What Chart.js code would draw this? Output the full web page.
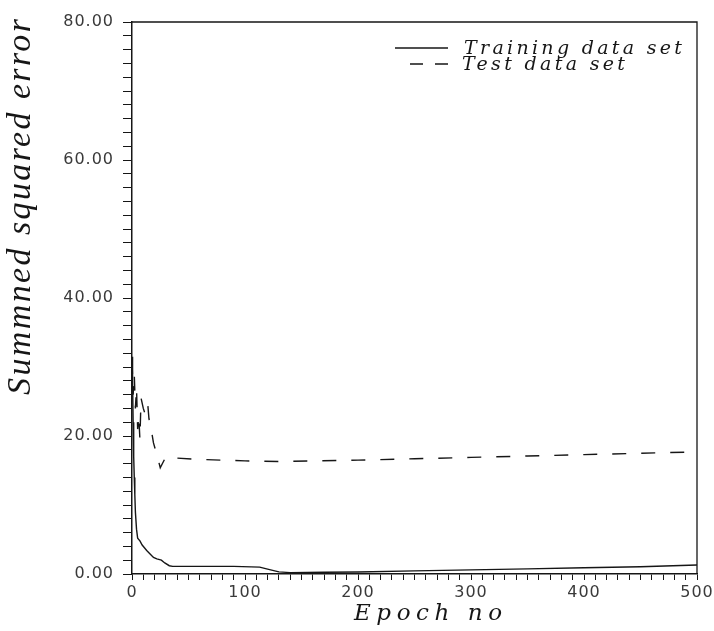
<!DOCTYPE html>
<html>
<head>
<meta charset="utf-8">
<script src="https://cdn.jsdelivr.net/npm/chart.js@4.4.1/dist/chart.umd.min.js"></script>
<style>
  html, body { margin: 0; padding: 0; background: #fff; }
  #wrap { width: 714px; height: 631px; }
</style>
</head>
<body>
<div id="wrap"><canvas id="myChart" width="714" height="631"></canvas></div>
<script>
// values
const trainEpochs = [0, 0.5, 1, 1.5, 2, 2.5, 3, 4, 5, 7, 9, 11, 13, 16, 19, 22, 26, 29, 33, 36, 60, 90, 113, 120, 130, 140, 170, 200, 250, 300, 350, 400, 450, 500]
const trainError = [31.5, 28, 22, 17, 14, 11.5, 9, 6.5, 5.2, 4.8, 4.2, 3.8, 3.4, 2.9, 2.4, 2.2, 2.0, 1.6, 1.2, 1.1, 1.1, 1.1, 1.0, 0.7, 0.3, 0.2, 0.25, 0.3, 0.45, 0.6, 0.75, 0.9, 1.05, 1.3]

const testEpochs = [0, 1, 2, 3, 4, 5, 6, 7, 8, 10, 12, 14, 15, 17, 19, 22, 25, 30, 33, 40, 60, 80, 100, 130, 160, 200, 250, 300, 350, 400, 450, 500]
const testError = [31, 26, 29, 24, 27, 21, 23, 19.5, 25.5, 24, 23, 24.5, 22.5, 21, 19, 17.3, 15.4, 17.0, 17.0, 16.8, 16.6, 16.5, 16.4, 16.3, 16.4, 16.5, 16.7, 16.9, 17.1, 17.3, 17.5, 17.7]

const yTickValues = [0, 20, 40, 60, 80]
const yTickLabels = ['0.00', '20.00', '40.00', '60.00', '80.00']
const xTickValues = [0, 100, 200, 300, 400, 500]
const xTickLabels = ['0', '100', '200', '300', '400', '500']

const seriesNames = ['Training data set', 'Test data set']
const xTitle = 'Epoch no'
const yTitle = 'Summned squared error'

const ink = '#161616'

function spacedText(ctx, text, x, y, targetW) {
    ctx.letterSpacing = '0px'
    const w = ctx.measureText(text).width
    const sp = Math.max(0, (targetW - w) / (text.length - 1))
    ctx.letterSpacing = sp + 'px'
    ctx.textAlign = 'left'
    ctx.fillText(text, x, y)
    ctx.letterSpacing = '0px'
}

const paperPlugin = {
    id: 'paper',
    beforeDraw(chart) {
        chart.ctx.letterSpacing = '1px'
    },
    afterDraw(chart) {
        const ctx = chart.ctx
        const a = chart.chartArea
        ctx.save()
        ctx.letterSpacing = '0px'
        // top and right frame
        ctx.strokeStyle = ink
        ctx.lineWidth = 1.3
        ctx.beginPath()
        ctx.moveTo(a.left, a.top)
        ctx.lineTo(a.right, a.top)
        ctx.lineTo(a.right, a.bottom)
        ctx.stroke()

        // legend
        ctx.lineWidth = 1.3
        ctx.beginPath()
        ctx.moveTo(395, 48)
        ctx.lineTo(448, 48)
        ctx.stroke()
        ctx.setLineDash([13, 12])
        ctx.beginPath()
        ctx.moveTo(410, 64)
        ctx.lineTo(448, 64)
        ctx.stroke()
        ctx.setLineDash([])

        ctx.fillStyle = ink
        ctx.textBaseline = 'alphabetic'
        ctx.font = 'italic 19px "DejaVu Serif"'
        spacedText(ctx, seriesNames[0], 464, 54, 218)
        spacedText(ctx, seriesNames[1], 462, 70, 163)

        // axis titles
        ctx.font = 'italic 23px "DejaVu Serif"'
        spacedText(ctx, xTitle, 354, 620, 148)

        ctx.translate(30, 207)
        ctx.rotate(-Math.PI / 2)
        ctx.font = 'italic 34px "Liberation Serif"'
        spacedText(ctx, yTitle, -188, 0, 376)
        ctx.restore()
    }
}

const ctx = document.getElementById('myChart')

const myChart = new Chart(ctx, {
    type: 'line',
    data: {
        datasets: [{
            label: seriesNames[0],
            data: trainEpochs.map((e, i) => ({ x: e, y: trainError[i] })),
            borderColor: ink,
            borderWidth: 1.4,
            pointRadius: 0,
            tension: 0,
            fill: false
        }, {
            label: seriesNames[1],
            data: testEpochs.map((e, i) => ({ x: e, y: testError[i] })),
            borderColor: ink,
            borderWidth: 1.4,
            borderDash: [14, 15],
            pointRadius: 0,
            tension: 0,
            fill: false
        }]
    },
    options: {
        responsive: false,
        animation: false,
        events: [],
        layout: { padding: { top: 22, right: 17, left: 0, bottom: 0 } },
        plugins: {
            legend: { display: false },
            tooltip: { enabled: false }
        },
        scales: {
            x: {
                type: 'linear',
                min: 0,
                max: 500,
                border: { display: true, color: ink, width: 1.5 },
                grid: { drawOnChartArea: false, drawTicks: true, tickLength: 6, color: ink, lineWidth: 1 },
                ticks: {
                    stepSize: 10,
                    autoSkip: false,
                    maxRotation: 0,
                    padding: 3,
                    color: '#3a3a3a',
                    font: { family: '"DejaVu Sans"', size: 16 },
                    callback: v => {
                        const i = xTickValues.indexOf(v)
                        return i >= 0 ? xTickLabels[i] : ''
                    }
                },
                afterFit: s => {
                    s.height = 57
                    s.paddingLeft = 0
                    s.paddingRight = 0
                }
            },
            y: {
                type: 'linear',
                min: 0,
                max: 80,
                border: { display: true, color: ink, width: 1.5 },
                grid: { drawOnChartArea: false, drawTicks: true, tickLength: 9, color: ink, lineWidth: 1 },
                ticks: {
                    stepSize: 2,
                    autoSkip: false,
                    padding: 9,
                    color: '#3a3a3a',
                    font: { family: '"DejaVu Sans"', size: 16 },
                    callback: v => {
                        const i = yTickValues.indexOf(v)
                        return i >= 0 ? yTickLabels[i] : ''
                    }
                },
                afterFit: s => {
                    s.width = 132
                    s.paddingTop = 0
                    s.paddingBottom = 0
                }
            }
        }
    },
    plugins: [paperPlugin]
})
</script>
</body>
</html>
